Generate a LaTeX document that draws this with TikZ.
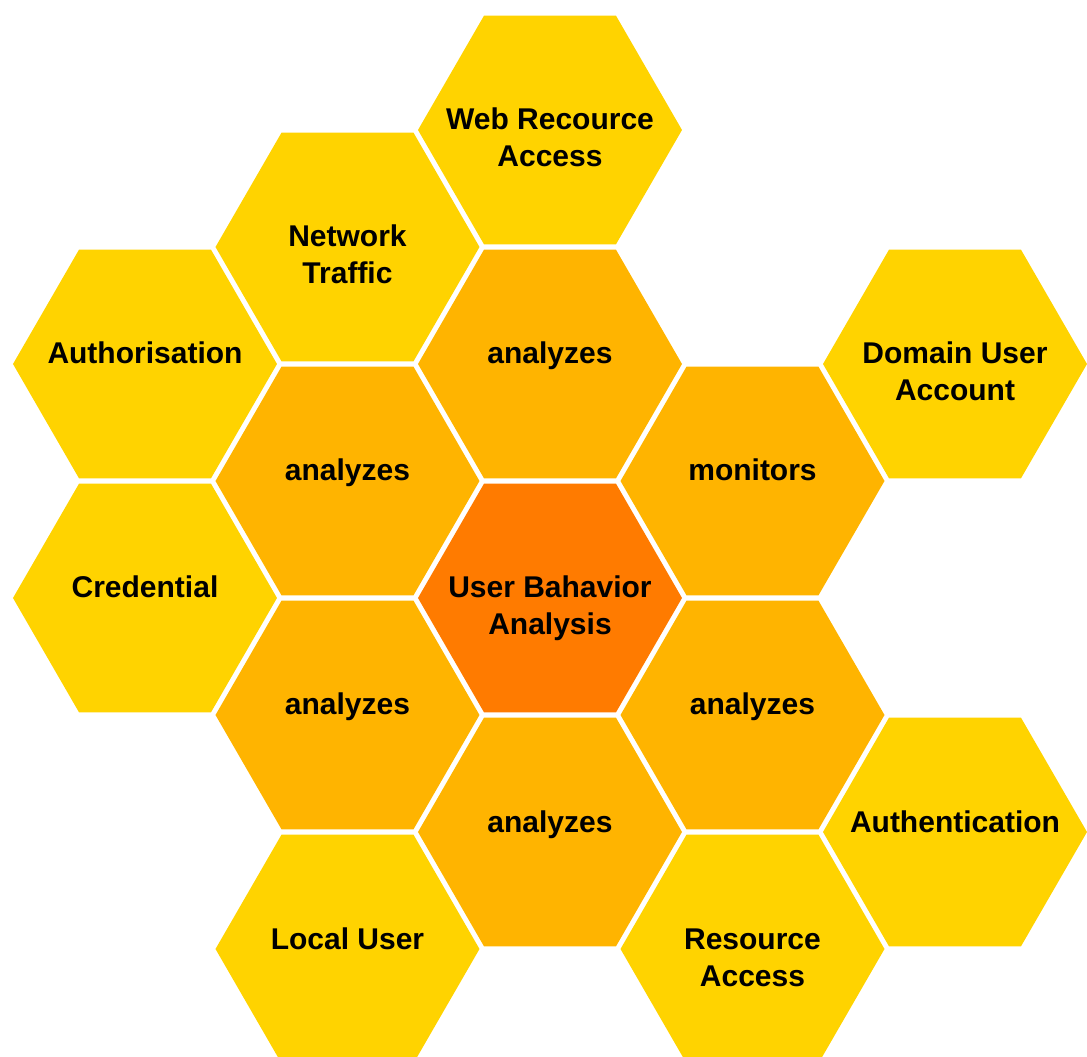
\documentclass[tikz,border=0pt]{standalone}
\usepackage{fontspec}
\setmainfont{Liberation Sans}
\usetikzlibrary{shapes.geometric}
\definecolor{cellyellow}{HTML}{FFD300}
\definecolor{cellamber}{HTML}{FFB400}
\definecolor{cellorange}{HTML}{FF7B00}
\newcommand{\celltext}[1]{\makebox[0pt]{\smash{\begin{tabular}[t]{@{}c@{}}#1\end{tabular}}}}

\begin{document}
\begin{tikzpicture}[
  x=1pt,
  y=1pt,
  cell/.style={
    regular polygon,
    regular polygon sides=6,
    minimum size=264pt,
    inner sep=0pt,
    outer sep=0pt,
    fill=#1,
    font=\fontsize{30}{37}\selectfont\bfseries
  },
  cell/.default=cellyellow
]
\useasboundingbox (-550,-459) rectangle (537,598);
% centre
\node[cell=cellorange] (uba) at (0,0) {\celltext{User Bahavior\\Analysis}};
% inner ring
\node[cell=cellamber] (anaN) at (0,234) {\celltext{analyzes}};
\node[cell=cellamber] (mon) at (202.5,117) {\celltext{monitors}};
\node[cell=cellamber] (anaSE) at (202.5,-117) {\celltext{analyzes}};
\node[cell=cellamber] (anaS) at (0,-234) {\celltext{analyzes}};
\node[cell=cellamber] (anaSW) at (-202.5,-117) {\celltext{analyzes}};
\node[cell=cellamber] (anaNW) at (-202.5,117) {\celltext{analyzes}};
% outer cells
\node[cell] (web) at (0,468) {\celltext{Web Recource\\Access}};
\node[cell] (net) at (-202.5,351) {\celltext{Network\\Traffic}};
\node[cell] (authz) at (-405,234) {\celltext{Authorisation}};
\node[cell] (cred) at (-405,0) {\celltext{Credential}};
\node[cell] (local) at (-202.5,-351) {\celltext{Local User}};
\node[cell] (res) at (202.5,-351) {\celltext{Resource\\Access}};
\node[cell] (authn) at (405,-234) {\celltext{Authentication}};
\node[cell] (domain) at (405,234) {\celltext{Domain User\\Account}};
\end{tikzpicture}
\end{document}
